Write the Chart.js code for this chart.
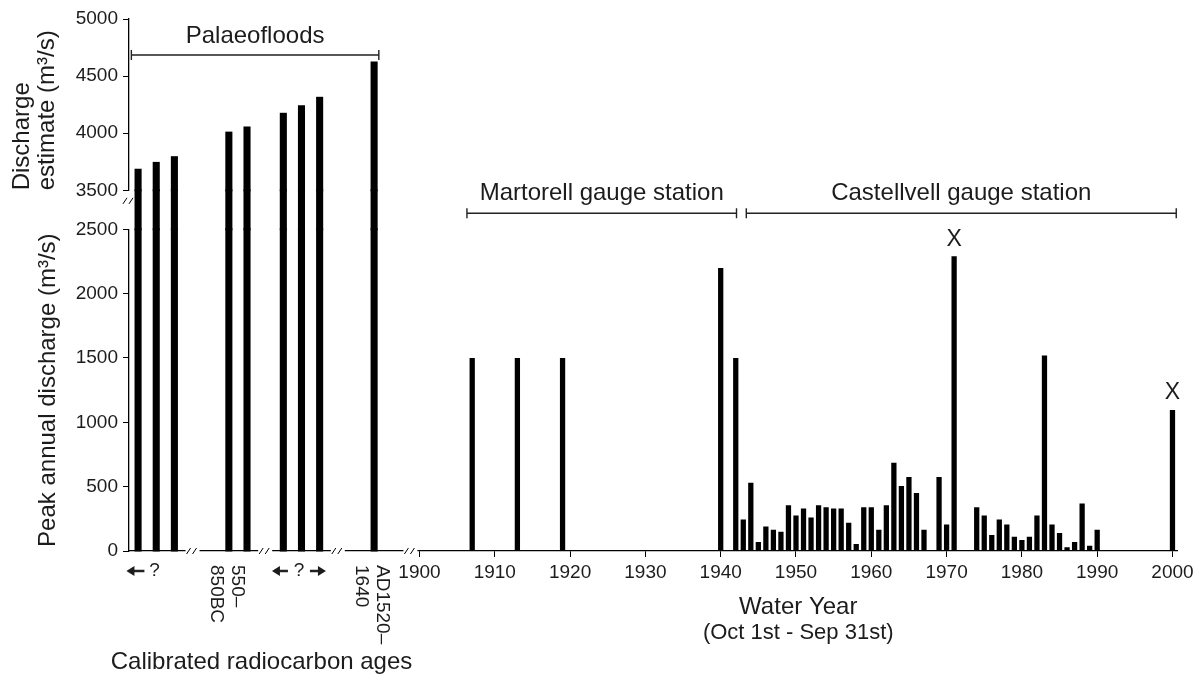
<!DOCTYPE html>
<html>
<head>
<meta charset="utf-8">
<script src="https://cdn.jsdelivr.net/npm/chart.js@4.4.1/dist/chart.umd.min.js"></script>
<style>
  body { margin: 0; background: #fff; }
</style>
</head>
<body>
<canvas id="flood" width="1204" height="675"></canvas>
<script>
// palaeoflood slots: blank slots keep the gaps, '//' marks an axis break
var palaeoSlots = ['', '', '', '//', '', '', '', '//', '', '', '', '//', '', '', '', '//'];
var palaeoValues = [3680, 3740, 3790, null, null, 4005, 4050, null, 4170, 4235, 4310, null, null, 4620, null, null];

// gauged peak annual discharge (m3/s)
var years = [1907, 1913, 1919, 1940, 1942, 1943, 1944, 1945, 1946, 1947, 1948, 1949, 1950,
  1951, 1952, 1953, 1954, 1955, 1956, 1957, 1958, 1959, 1960, 1961, 1962, 1963, 1964,
  1965, 1966, 1967, 1969, 1970, 1971, 1974, 1975, 1976, 1977, 1978, 1979, 1980, 1981,
  1982, 1983, 1984, 1985, 1986, 1987, 1988, 1989, 1990, 2000];
var peaks = [1500, 1500, 1500, 2200, 1500, 245, 530, 70, 190, 165, 150, 355, 275,
  330, 260, 355, 340, 330, 330, 220, 55, 340, 340, 165, 355, 685, 505,
  575, 450, 165, 575, 205, 2290, 340, 275, 125, 245, 205, 110, 85, 110,
  275, 1520, 205, 140, 30, 70, 370, 40, 165, 1095];
var flagged = [1971, 2000];

var lowerTicks = [0, 500, 1000, 1500, 2000, 2500];
var upperTicks = [3500, 4000, 4500, 5000];
var yearTicks = [1900, 1910, 1920, 1930, 1940, 1950, 1960, 1970, 1980, 1990, 2000];

var stations = [
  { label: 'Martorell gauge station', from: 1906.3, to: 1942.1 },
  { label: 'Castellvell gauge station', from: 1943.4, to: 2000.5 }
];

var FONT = '"Liberation Sans", Arial, sans-serif';
var INK = '#1c1c1c';
Chart.defaults.font.family = FONT;
Chart.defaults.color = INK;

function bracket(ctx, x1, x2, yy) {
  ctx.beginPath();
  ctx.moveTo(x1, yy); ctx.lineTo(x2, yy);
  ctx.moveTo(x1, yy - 5); ctx.lineTo(x1, yy + 5);
  ctx.moveTo(x2, yy - 5); ctx.lineTo(x2, yy + 5);
  ctx.stroke();
}

function slashes(ctx, cx, cy) {
  ctx.beginPath();
  ctx.moveTo(cx - 6, cy + 3); ctx.lineTo(cx - 2, cy - 3);
  ctx.moveTo(cx, cy + 3); ctx.lineTo(cx + 4, cy - 3);
  ctx.stroke();
}

function arrow(ctx, from, to, yy) {
  var dir = to > from ? 1 : -1;
  ctx.beginPath();
  ctx.moveTo(from, yy); ctx.lineTo(to - dir * 7, yy);
  ctx.lineWidth = 2.5;
  ctx.stroke();
  ctx.beginPath();
  ctx.moveTo(to, yy); ctx.lineTo(to - dir * 8, yy - 5); ctx.lineTo(to - dir * 8, yy + 5);
  ctx.closePath();
  ctx.fill();
}

function vtext(ctx, lines, cx, top) {
  ctx.save();
  ctx.translate(cx, top);
  ctx.rotate(Math.PI / 2);
  ctx.textAlign = 'left';
  ctx.textBaseline = 'middle';
  lines.forEach(function (t, i) {
    ctx.fillText(t, 0, (i - (lines.length - 1) / 2) * 21);
  });
  ctx.restore();
}

var extras = {
  id: 'extras',
  afterDraw: function (chart) {
    var ctx = chart.ctx;
    var xp = chart.scales.xp, x = chart.scales.x, y = chart.scales.y, yg = chart.scales.yg, yu = chart.scales.yu;
    var base = y.getPixelForValue(0);
    ctx.save();

    // breaks on the time axis
    palaeoSlots.forEach(function (s, i) {
      if (s !== '//') return;
      var cx = xp.getPixelForValue(i);
      ctx.fillStyle = '#fff';
      ctx.fillRect(cx - 7, base - 3, 14, 6);
      ctx.strokeStyle = '#000';
      ctx.lineWidth = 1;
      slashes(ctx, cx, base);
    });
    // break on the discharge axis
    ctx.lineWidth = 1;
    slashes(ctx, y.left + y.width, yg.getPixelForValue(3230));

    ctx.fillStyle = INK;
    ctx.strokeStyle = '#222';
    ctx.textAlign = 'center';
    ctx.textBaseline = 'middle';

    // palaeofloods bracket
    ctx.lineWidth = 1.4;
    var py = yu.getPixelForValue(4685);
    var p1 = xp.getPixelForValue(-0.37), p2 = xp.getPixelForValue(13.26);
    bracket(ctx, p1, p2, py);
    ctx.font = '24px ' + FONT;
    ctx.fillText('Palaeofloods', (p1 + p2) / 2, py - 19);

    // gauge station brackets
    var gy = yg.getPixelForValue(2910);
    stations.forEach(function (st) {
      var a = x.getPixelForValue(st.from), b = x.getPixelForValue(st.to);
      ctx.lineWidth = 1.4;
      bracket(ctx, a, b, gy);
      ctx.fillText(st.label, (a + b) / 2, gy - 20);
    });

    // X marks above flagged years
    ctx.font = '23px ' + FONT;
    flagged.forEach(function (yr) {
      var v = peaks[years.indexOf(yr)];
      ctx.fillText('X', x.getPixelForValue(yr), y.getPixelForValue(v) - 17);
    });

    // palaeoflood age labels
    ctx.font = '19px ' + FONT;
    var ly = base + 20;
    var q1 = xp.getPixelForValue(0.9);
    ctx.fillText('?', q1, ly);
    arrow(ctx, q1 - 10, q1 - 28, ly);
    var q3 = xp.getPixelForValue(8.86);
    ctx.fillText('?', q3, ly);
    arrow(ctx, q3 - 11, q3 - 27, ly);
    arrow(ctx, q3 + 11, q3 + 27, ly);
    vtext(ctx, ['550\u2013', '850BC'], xp.getPixelForValue(4.9), base + 14);
    vtext(ctx, ['AD1520\u2013', '1640'], xp.getPixelForValue(12.85), base + 14);

    ctx.font = '24px ' + FONT;
    ctx.fillText('Calibrated radiocarbon ages', xp.getPixelForValue(6.8), base + 111);
    var wx = (x.left + x.right) / 2;
    ctx.fillText('Water Year', wx, base + 56);
    ctx.font = '22px ' + FONT;
    ctx.fillText('(Oct 1st - Sep 31st)', wx, base + 82);
    ctx.restore();
  }
};

function fixedTicks(list) {
  return function (s) { s.ticks = list.map(function (v) { return { value: v }; }); };
}
function yAxis(weight, share, min, max, list) {
  return {
    type: 'linear', position: 'left', stack: 'left', stackWeight: share, weight: weight,
    min: min, max: max,
    afterBuildTicks: list ? fixedTicks(list) : undefined,
    ticks: { display: !!list, font: { size: 19 }, padding: 5, callback: function (v) { return String(v); } },
    grid: { drawOnChartArea: false, display: !!list, tickLength: 6, color: '#000' },
    border: { display: !!list, color: '#000', width: 1.3 },
    afterFit: function (s) { s.width = 129; }
  };
}

var upperAxis = yAxis(2, 171.3, 3500, 5000, upperTicks);
upperAxis.title = { display: true, text: ['Discharge', 'estimate (m\u00b3/s)'], align: 'start',
  font: { size: 24, lineHeight: 1.05 }, padding: { top: 10, bottom: 0 } };
var gapAxis = yAxis(1, 39, 2500, 3500, null);
var lowerAxis = yAxis(0, 321.7, 0, 2500, lowerTicks);
lowerAxis.title = { display: true, text: 'Peak annual discharge (m\u00b3/s)',
  font: { size: 24, lineHeight: 1.05 }, padding: { top: 36, bottom: 0 } };

// the three pieces of a palaeoflood bar overlap a little so no seam shows at the axis joins
var palaeoBar = { type: 'bar', xAxisID: 'xp', grouped: false, backgroundColor: '#000',
  barPercentage: 0.28, categoryPercentage: 1, inflateAmount: 1, clip: false };

new Chart(document.getElementById('flood'), {
  type: 'bar',
  data: {
    datasets: [
      Object.assign({ yAxisID: 'y', data: palaeoValues.map(function (v) { return v == null ? null : [0, 2500]; }) }, palaeoBar),
      Object.assign({ yAxisID: 'yg', data: palaeoValues.map(function (v) { return v == null ? null : [2500, 3500]; }) }, palaeoBar),
      Object.assign({ yAxisID: 'yu', data: palaeoValues.map(function (v) { return v == null ? null : [3500, v]; }) }, palaeoBar),
      {
        type: 'bar', xAxisID: 'x', yAxisID: 'y', grouped: false, backgroundColor: '#000',
        barPercentage: 0.7, categoryPercentage: 1,
        data: years.map(function (yr, i) { return { x: yr, y: peaks[i] }; })
      }
    ]
  },
  options: {
    responsive: false,
    animation: false,
    layout: { padding: { top: 19, right: 27, bottom: 0, left: 0 } },
    plugins: { legend: { display: false }, tooltip: { enabled: false } },
    scales: {
      xp: {
        type: 'category', labels: palaeoSlots, position: 'bottom', stack: 'base',
        stackWeight: 290.5, weight: 0, offset: true,
        grid: { display: false }, ticks: { display: false },
        border: { color: '#000', width: 1.3 },
        afterFit: function (s) { s.height = 124; }
      },
      x: {
        type: 'linear', position: 'bottom', stack: 'base', stackWeight: 757.5, weight: 1,
        min: 1900, max: 2000.6, offset: false,
        afterBuildTicks: fixedTicks(yearTicks),
        ticks: { font: { size: 19 }, padding: 4, maxRotation: 0, autoSkip: false,
          callback: function (v) { return String(v); } },
        grid: { drawOnChartArea: false, offset: false, tickLength: 6, color: '#000' },
        border: { color: '#000', width: 1.3 },
        afterFit: function (s) { s.height = 124; }
      },
      yu: upperAxis,
      yg: gapAxis,
      y: lowerAxis
    }
  },
  plugins: [extras]
});
</script>
</body>
</html>
